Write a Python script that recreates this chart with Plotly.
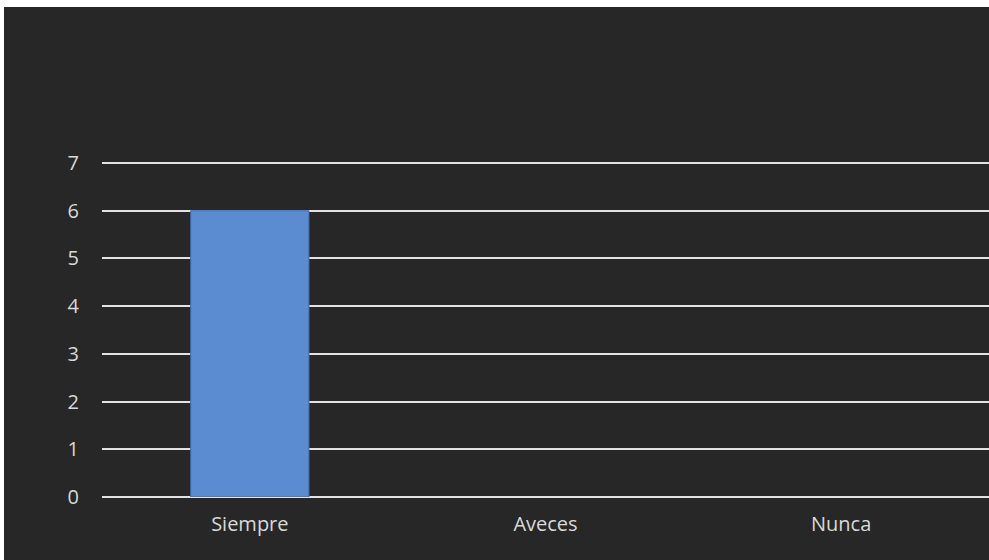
import plotly.graph_objects as go

# Survey responses
categories = ["Siempre", "Aveces", "Nunca"]
counts = [6, 0, 0]
y_ticks = [0, 1, 2, 3, 4, 5, 6, 7]

DARK = "#272727"
TEXT = "#d9d9d9"
GRID = "#e3e3e3"
W, H = 989, 560
L, R, T, B = 102, 0, 160, 63
UNIT = 334 / 7  # pixels per count
y_top = (H - T - B) / UNIT  # a touch above 7 so the top gridline is not clipped

fig = go.Figure(
    go.Bar(
        x=categories,
        y=counts,
        width=0.4,
        marker=dict(color="#5b8bd1",
                    line=dict(color="#3f6aa8", width=[1 if c > 0 else 0 for c in counts])),
    )
)

# white frame strips along the top and left edges
pw, ph = W - L - R, H - T - B
def px_x(v):
    return (v - L) / pw
def px_y(v):
    return (H - B - v) / ph

fig.add_shape(type="rect", xref="paper", yref="paper",
              x0=px_x(0), x1=px_x(W), y0=px_y(7), y1=px_y(0),
              fillcolor="white", line_width=0, layer="above")
fig.add_shape(type="rect", xref="paper", yref="paper",
              x0=px_x(0), x1=px_x(4), y0=px_y(H), y1=px_y(0),
              fillcolor="white", line_width=0, layer="above")

fig.update_layout(
    width=W, height=H,
    margin=dict(l=L, r=R, t=T, b=B),
    paper_bgcolor=DARK,
    plot_bgcolor=DARK,
    showlegend=False,
    font=dict(family="Open Sans, Liberation Sans, sans-serif", size=20, color=TEXT),
)
fig.update_xaxes(
    showgrid=False, zeroline=False, showline=False, ticks="",
    ticklabelstandoff=13,
    tickfont=dict(size=20, color=TEXT),
)
fig.update_yaxes(
    range=[0, y_top], tickvals=y_ticks,
    showgrid=True, gridcolor=GRID, gridwidth=2,
    zeroline=True, zerolinecolor=GRID, zerolinewidth=2,
    showline=False, ticks="", ticklabelstandoff=22,
    tickfont=dict(size=20, color=TEXT),
)

fig.write_html("out.html")
